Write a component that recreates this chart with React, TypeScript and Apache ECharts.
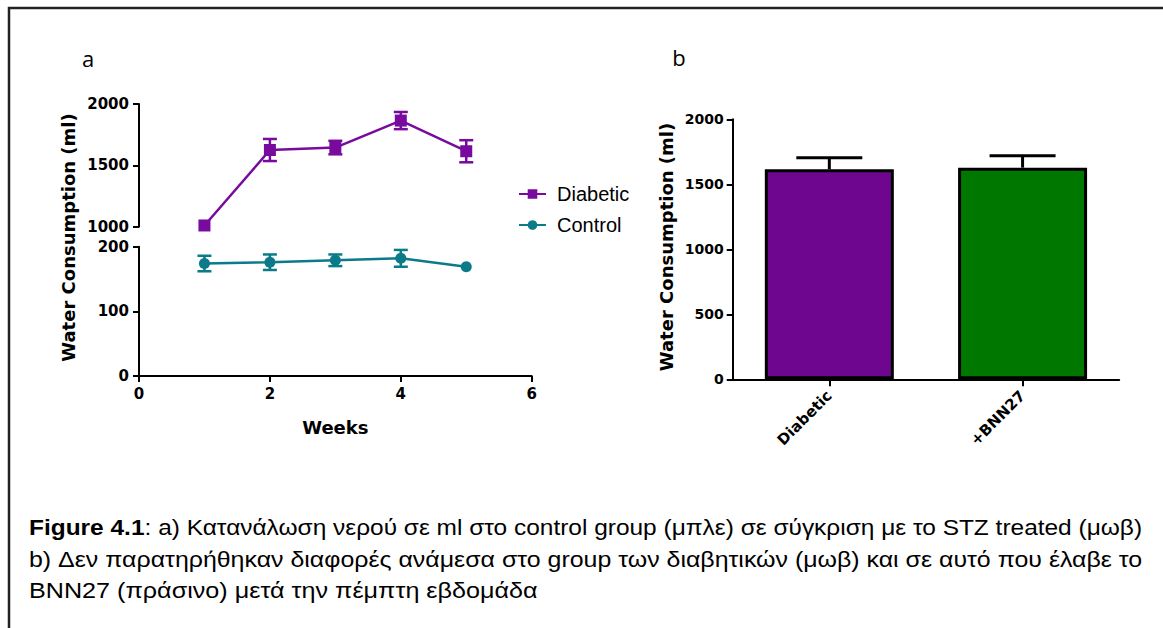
import React, { useEffect, useRef } from 'react';
import * as echarts from 'echarts';

// ---- data ----
const weeks = [1, 2, 3, 4, 5];
const diabeticMean = [1010, 1625, 1645, 1865, 1615];
const diabeticSem = [0, 90, 55, 70, 90];
const controlMean = [174, 176, 179, 182, 169];
const controlSem = [12, 12, 9, 13, 0];
const groups = ['Diabetic', '+BNN27'];
const groupMean = [1615, 1628];
const groupSem = [90, 92];

const captionBold = 'Figure 4.1';
const captionLine1 = ': a) Κατανάλωση νερού σε ml στο control group (μπλε) σε σύγκριση με το STZ treated (μωβ)';
const captionLine2 = 'b) Δεν παρατηρήθηκαν διαφορές ανάμεσα στο group των διαβητικών (μωβ) και σε αυτό που έλαβε το';
const captionLine3 = 'BNN27 (πράσινο) μετά την πέμπτη εβδομάδα';

const PURPLE_LINE = '#780a9e';
const TEAL = '#0b7b89';
const BAR_PURPLE = '#6f068f';
const BAR_GREEN = '#007800';
const AXIS_FONT = '"DejaVu Sans", sans-serif';
const CAP_FONT = '"Liberation Sans", Arial, sans-serif';

function measure(text: string, font: string): number {
  const c = document.createElement('canvas').getContext('2d');
  if (!c) return text.length * 9;
  c.font = font;
  return c.measureText(text).width;
}

function errRender(color: string, hw: number, lw: number) {
  return (params: any, api: any) => {
    const x = api.value(0);
    const y = api.value(1);
    const e = api.value(2);
    if (!e) return { type: 'group', children: [] };
    const top = api.coord([x, y + e]);
    const bot = api.coord([x, y - e]);
    const st = { stroke: color, lineWidth: lw };
    return {
      type: 'group',
      children: [
        { type: 'line', shape: { x1: top[0], y1: top[1], x2: bot[0], y2: bot[1] }, style: st },
        { type: 'line', shape: { x1: top[0] - hw, y1: top[1], x2: top[0] + hw, y2: top[1] }, style: st },
        { type: 'line', shape: { x1: bot[0] - hw, y1: bot[1], x2: bot[0] + hw, y2: bot[1] }, style: st },
      ],
    };
  };
}

function barErrRender(params: any, api: any) {
  const x = api.value(0);
  const y = api.value(1);
  const e = api.value(2);
  const base = api.coord([x, y]);
  const top = api.coord([x, y + e]);
  const st = { stroke: '#000', lineWidth: 3 };
  return {
    type: 'group',
    children: [
      { type: 'line', shape: { x1: base[0], y1: base[1], x2: top[0], y2: top[1] }, style: st },
      { type: 'line', shape: { x1: top[0] - 33, y1: top[1], x2: top[0] + 33, y2: top[1] }, style: st },
    ],
  };
}

const plain = (v: number) => String(v);

export default function App() {
  const ref = useRef<HTMLDivElement>(null);
  useEffect(() => {
    if (!ref.current) return;
    const chart = echarts.init(ref.current, undefined, { renderer: 'svg' });

    const capSize = 22;
    const regFont = `${capSize}px "Liberation Sans"`;
    const boldFont = `bold ${capSize}px "Liberation Sans"`;
    const w1 = measure(captionBold, boldFont) + measure(captionLine1, regFont);
    const w2 = measure(captionLine2, regFont);
    const w3 = measure(captionLine3, regFont);
    const s3 = 509 / w3;
    const s1 = 1114 / w1;
    const s2 = 1114 / w2;

    const axisLineStyle = { color: '#000', width: 2 };
    const tickStyle = { show: true, inside: false, length: 6, lineStyle: { color: '#000', width: 2 } };
    const lblA = { color: '#000', fontFamily: AXIS_FONT, fontWeight: 'bold', fontSize: 15, margin: 10, formatter: plain };

    const option: any = {
      animation: false,
      backgroundColor: '#fff',
      grid: [
        { left: 139, top: 104, width: 392.7, height: 122.7 },
        { left: 139, top: 246.7, width: 392.7, height: 129.3 },
        { left: 732.7, top: 119.3, width: 386.5, height: 260 },
      ],
      xAxis: [
        { gridIndex: 0, type: 'value', min: 0, max: 6, interval: 2, show: false },
        {
          gridIndex: 1, type: 'value', min: 0, max: 6, interval: 2,
          axisLine: { show: true, lineStyle: axisLineStyle },
          axisTick: tickStyle,
          splitLine: { show: false },
          axisLabel: lblA,
          name: 'Weeks', nameLocation: 'middle', nameGap: 42,
          nameTextStyle: { color: '#000', fontFamily: AXIS_FONT, fontWeight: 'bold', fontSize: 18 },
        },
        {
          gridIndex: 2, type: 'category', data: groups,
          axisLine: { show: true, lineStyle: axisLineStyle },
          axisTick: { show: true, alignWithLabel: true, length: 7, lineStyle: { color: '#000', width: 2 } },
          axisLabel: { color: '#000', fontFamily: AXIS_FONT, fontWeight: 'bold', fontSize: 15, rotate: 45, margin: 14 },
        },
      ],
      yAxis: [
        {
          gridIndex: 0, type: 'value', min: 1000, max: 2000, interval: 500,
          axisLine: { show: true, lineStyle: axisLineStyle },
          axisTick: tickStyle,
          splitLine: { show: false },
          axisLabel: lblA,
        },
        {
          gridIndex: 1, type: 'value', min: 0, max: 200, interval: 100,
          axisLine: { show: true, lineStyle: axisLineStyle },
          axisTick: tickStyle,
          splitLine: { show: false },
          axisLabel: lblA,
        },
        {
          gridIndex: 2, type: 'value', min: 0, max: 2000, interval: 500,
          axisLine: { show: true, lineStyle: axisLineStyle },
          axisTick: tickStyle,
          splitLine: { show: false },
          axisLabel: { color: '#000', fontFamily: AXIS_FONT, fontWeight: 'bold', fontSize: 14, margin: 9, formatter: plain },
        },
      ],
      legend: {
        data: ['Diabetic', 'Control'],
        orient: 'vertical',
        left: 513,
        top: 179,
        itemWidth: 27,
        itemHeight: 12,
        itemGap: 11,
        textStyle: { color: '#000', fontFamily: CAP_FONT, fontSize: 20, lineHeight: 20, padding: [0, 0, 0, 6] },
      },
      series: [
        {
          name: 'DiabeticErr', type: 'custom', xAxisIndex: 0, yAxisIndex: 0, z: 2,
          renderItem: errRender(PURPLE_LINE, 7, 2.5),
          encode: { x: 0, y: 1 },
          data: weeks.map((w, i) => [w, diabeticMean[i], diabeticSem[i]]),
        },
        {
          name: 'ControlErr', type: 'custom', xAxisIndex: 1, yAxisIndex: 1, z: 2,
          renderItem: errRender(TEAL, 7, 2.5),
          encode: { x: 0, y: 1 },
          data: weeks.map((w, i) => [w, controlMean[i], controlSem[i]]),
        },
        {
          name: 'Diabetic', type: 'line', xAxisIndex: 0, yAxisIndex: 0, z: 3,
          symbol: 'rect', symbolSize: 12,
          itemStyle: { color: PURPLE_LINE },
          lineStyle: { color: PURPLE_LINE, width: 2.5 },
          data: weeks.map((w, i) => [w, diabeticMean[i]]),
        },
        {
          name: 'Control', type: 'line', xAxisIndex: 1, yAxisIndex: 1, z: 3,
          symbol: 'circle', symbolSize: 11,
          itemStyle: { color: TEAL },
          lineStyle: { color: TEAL, width: 2.5 },
          data: weeks.map((w, i) => [w, controlMean[i]]),
        },
        {
          name: 'Groups', type: 'bar', xAxisIndex: 2, yAxisIndex: 2, barWidth: 129,
          data: groupMean.map((v, i) => ({
            value: v,
            itemStyle: { color: i === 0 ? BAR_PURPLE : BAR_GREEN, borderColor: '#000', borderWidth: 3 },
          })),
        },
        {
          name: 'GroupErr', type: 'custom', xAxisIndex: 2, yAxisIndex: 2, z: 4,
          renderItem: barErrRender,
          encode: { x: 0, y: 1 },
          data: groupMean.map((v, i) => [i, v, groupSem[i]]),
        },
      ],
      graphic: [
        { type: 'polyline', shape: { points: [[9, 628], [9, 8], [1163, 8]] }, style: { stroke: '#222', lineWidth: 2.5, fill: 'none' } },
        { type: 'text', x: 88, y: 58, style: { text: 'a', fontFamily: '"Open Sans", sans-serif', fontSize: 22, fill: '#000', textAlign: 'center', textVerticalAlign: 'middle' } },
        { type: 'text', x: 679, y: 57, style: { text: 'b', fontFamily: '"Open Sans", sans-serif', fontSize: 22, fill: '#000', textAlign: 'center', textVerticalAlign: 'middle' } },
        { type: 'text', x: 68, y: 237.5, rotation: Math.PI / 2, style: { text: 'Water Consumption (ml)', fontFamily: AXIS_FONT, fontWeight: 'bold', fontSize: 18, fill: '#000', textAlign: 'center', textVerticalAlign: 'middle' } },
        { type: 'text', x: 666, y: 247, rotation: Math.PI / 2, style: { text: 'Water Consumption (ml)', fontFamily: AXIS_FONT, fontWeight: 'bold', fontSize: 18, fill: '#000', textAlign: 'center', textVerticalAlign: 'middle' } },
        {
          type: 'text', x: 29, y: 527, scaleX: s1,
          style: {
            text: `{b|${captionBold}}${captionLine1}`,
            fontFamily: CAP_FONT, fontSize: capSize, fill: '#000', textAlign: 'left', textVerticalAlign: 'middle',
            rich: { b: { fontFamily: CAP_FONT, fontSize: capSize, fontWeight: 'bold', fill: '#000' } },
          },
        },
        { type: 'text', x: 29, y: 559.5, scaleX: s2, style: { text: captionLine2, fontFamily: CAP_FONT, fontSize: capSize, fill: '#000', textAlign: 'left', textVerticalAlign: 'middle' } },
        { type: 'text', x: 29, y: 591, scaleX: s3, style: { text: captionLine3, fontFamily: CAP_FONT, fontSize: capSize, fill: '#000', textAlign: 'left', textVerticalAlign: 'middle' } },
      ],
    };
    chart.setOption(option);
    return () => chart.dispose();
  }, []);
  return (
    <div
      ref={ref}
      style={{ position: 'absolute', left: 0, top: 0, width: 1163, height: 628, background: '#fff' }}
    />
  );
}
